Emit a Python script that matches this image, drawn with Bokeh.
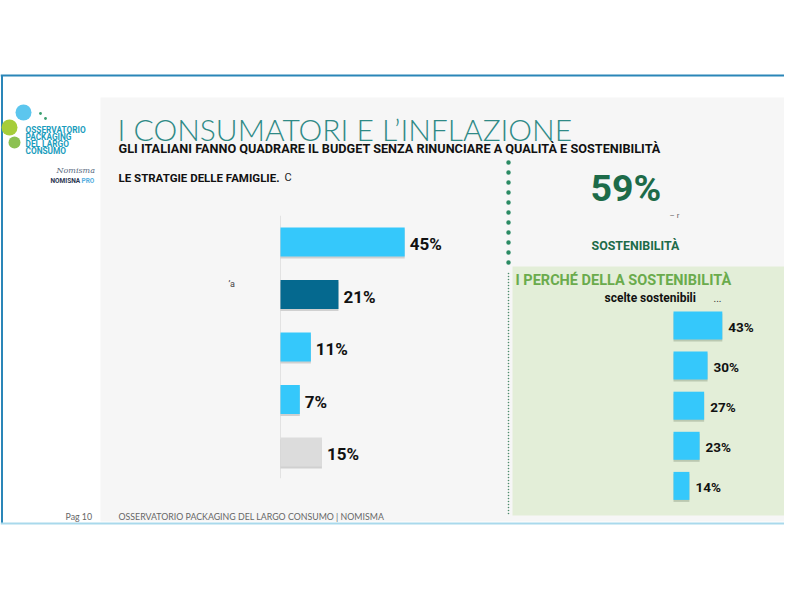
from bokeh.plotting import figure
from bokeh.models import Range1d, ColumnDataSource, Label
from bokeh.core.properties import value
from bokeh.transform import dodge
from bokeh.embed import file_html
from bokeh.resources import INLINE

# ---------------- data ----------------
strategy_values = [45, 21, 11, 7, 15]
strategy_colors = ["#35c8fb", "#05698f", "#35c8fb", "#35c8fb", "#dcdcdc"]
reason_values = [43, 30, 27, 23, 14]
reason_color = "#35c8fb"

title = "I CONSUMATORI E L\u2019INFLAZIONE"
subtitle = "GLI ITALIANI FANNO QUADRARE IL BUDGET SENZA RINUNCIARE A QUALITÀ E SOSTENIBILITÀ"
left_heading = "LE STRATGIE DELLE FAMIGLIE."
kpi_value = "59%"
kpi_label = "SOSTENIBILITÀ"
right_heading = "I PERCHÉ DELLA SOSTENIBILITÀ"
right_sub = "scelte sostenibili"
footer_page = "Pag 10"
footer_text = "OSSERVATORIO PACKAGING DEL LARGO CONSUMO | NOMISMA"

# ---------------- layout constants (page pixels) ----------------
W, H = 784, 584
X0, Y0 = 0, 0
L_AX, L_SC, L_C0, L_PITCH = 280, 2.76, 241.5, 52.5
R_AX, R_SC, R_C0, R_PITCH = 673, 1.135, 325, 40.1

p = figure(width=W, height=H, output_backend="svg", toolbar_location=None,
           x_range=Range1d(X0, X0 + W), y_range=Range1d(Y0 + H, Y0),
           min_border=0, background_fill_color="white", border_fill_color="white")
p.axis.visible = False
p.grid.visible = False
p.outline_line_color = None

p.extra_x_ranges = {
    "lx": Range1d((X0 - L_AX) / L_SC, (X0 + W - L_AX) / L_SC),
    "rx": Range1d((X0 - R_AX) / R_SC, (X0 + W - R_AX) / R_SC),
}
p.extra_y_ranges = {
    "ly": Range1d((Y0 + H - L_C0) / L_PITCH, (Y0 - L_C0) / L_PITCH),
    "ry": Range1d((Y0 + H - R_C0) / R_PITCH, (Y0 - R_C0) / R_PITCH),
}


def lab(x, y, text, font="Roboto", size="10px", color="#111111", style="normal"):
    p.add_layout(Label(x=x, y=y, text=text, text_font=font, text_font_style=style,
                       text_font_size=size, text_color=color, text_baseline="middle"))


# ---------------- slide background ----------------
p.quad(left=[100], right=[800], top=[97], bottom=[521], fill_color="#f6f6f6", line_color=None)
p.quad(left=[512], right=[798], top=[266], bottom=[515], fill_color="#e3eed8", line_color=None)
p.segment(x0=[0], x1=[800], y0=[75], y1=[75], line_color="#2a86b8", line_width=2)
p.segment(x0=[1.5], x1=[1.5], y0=[75], y1=[523], line_color="#2a86b8", line_width=2)
p.segment(x0=[0], x1=[800], y0=[523], y1=[523], line_color="#a9d9ec", line_width=2)

# dotted divider
p.segment(x0=[508], x1=[508], y0=[162], y1=[268], line_color="#2a8a63", line_width=4.5,
          line_dash="0 10", line_cap="round")
p.segment(x0=[508], x1=[508], y0=[273], y1=[516], line_color="#4f8c6c", line_width=1.6,
          line_dash="0 3", line_cap="round")

# ---------------- logo ----------------
p.circle(x=[23], y=[112], radius=8, fill_color="#5cc6ee", line_color=None)
p.circle(x=[9], y=[127], radius=8, fill_color="#a6cd3a", line_color=None)
p.circle(x=[14], y=[142], radius=6, fill_color="#8cc152", line_color=None)
p.circle(x=[40, 45], y=[113, 118], radius=1.4, fill_color="#3aa070", line_color=None)
logo_lines = ["OSSERVATORIO", "PACKAGING", "DEL LARGO", "CONSUMO"]
logo_y = [129, 136, 143, 150]
for t, yy in zip(logo_lines, logo_y):
    lab(25, yy, t, size="8.3px", color="#1b9dbd", style="bold")
lab(56, 170, "Nomisma", font="DejaVu Serif", size="8px", color="#5a6a80", style="italic")
lab(50, 180, "NOMISNA", size="6.5px", color="#2a3550", style="bold")
lab(81, 180, "PRO", size="6.5px", color="#55aee0", style="bold")

# ---------------- titles ----------------
lab(117, 128, title, font="Lato Light", size="30px", color="#2f8a86")
lab(118, 148, subtitle, size="12.7px", color="#111111", style="bold")
lab(118, 177, left_heading, size="11.5px", color="#111111", style="bold")
lab(284, 177, "C", size="11px", color="#222222")
lab(228, 283, "\u2019a", size="9px", color="#444444")

lab(590, 187, kpi_value, size="37.5px", color="#1d6b49", style="bold")
lab(669, 215, "\u2013 r", size="8px", color="#666666")
lab(591, 245, kpi_label, size="12.4px", color="#1d6b49", style="bold")
lab(515, 280, right_heading, size="14.5px", color="#6aab4c", style="bold")
lab(604, 297, right_sub, size="12px", color="#111111", style="bold")
lab(713, 297, "...", size="10px", color="#333333")

lab(65, 516, footer_page, font="Lato", size="8.8px", color="#666666")
lab(118, 516, footer_text, font="Lato", size="8.8px", color="#666666")

# ---------------- left bar chart ----------------
n_l = len(strategy_values)
lsrc = ColumnDataSource(dict(y=list(range(n_l)), v=strategy_values, c=strategy_colors,
                             lab=[f"{v}%" for v in strategy_values]))
p.segment(x0=[0], x1=[0], y0=[-0.5], y1=[n_l - 0.5], x_range_name="lx", y_range_name="ly",
          line_color="#e2e2e2", line_width=1)
p.hbar(y=dodge("y", 2.0 / L_PITCH), left=0, right="v", height=29 / L_PITCH, source=lsrc,
       x_range_name="lx", y_range_name="ly", fill_color="#b8b8b8", fill_alpha=0.6, line_color=None)
p.hbar(y="y", left=0, right="v", height=29 / L_PITCH, source=lsrc,
       x_range_name="lx", y_range_name="ly", fill_color="c", line_color=None)
p.text(x="v", y="y", text="lab", source=lsrc, x_range_name="lx", y_range_name="ly",
       x_offset=5, y_offset=2, text_baseline="middle", text_font=value("Roboto"),
       text_font_style="bold", text_font_size="17px", text_color="#111111")

# ---------------- right bar chart ----------------
n_r = len(reason_values)
rsrc = ColumnDataSource(dict(y=list(range(n_r)), v=reason_values,
                             lab=[f"{v}%" for v in reason_values]))
p.hbar(y=dodge("y", 2.0 / R_PITCH), left=0, right="v", height=28 / R_PITCH, source=rsrc,
       x_range_name="rx", y_range_name="ry", fill_color="#a9b8a0", fill_alpha=0.7, line_color=None)
p.hbar(y="y", left=0, right="v", height=28 / R_PITCH, source=rsrc,
       x_range_name="rx", y_range_name="ry", fill_color=reason_color, line_color=None)
p.text(x="v", y="y", text="lab", source=rsrc, x_range_name="rx", y_range_name="ry",
       x_offset=6, y_offset=1, text_baseline="middle", text_font=value("Roboto"),
       text_font_style="bold", text_font_size="13.5px", text_color="#111111")

open("out.html", "w").write(file_html(p, INLINE))
